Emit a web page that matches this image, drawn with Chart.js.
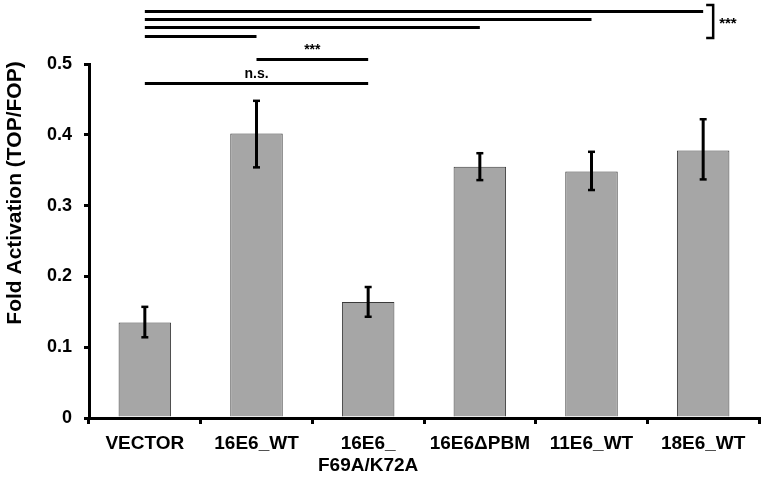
<!DOCTYPE html>
<html>
<head>
<meta charset="utf-8">
<script src="https://cdn.jsdelivr.net/npm/chart.js@4/dist/chart.umd.min.js"></script>
<style>
  html, body { margin: 0; padding: 0; background: #fff; }
  #wrap { width: 765px; height: 479px; position: relative; }
</style>
</head>
<body>
<div id="wrap"><canvas id="chart"></canvas></div>
<script>
const categories = ['VECTOR', '16E6_WT', ['16E6_', 'F69A/K72A'], '16E6\u0394PBM', '11E6_WT', '18E6_WT'];
const foldActivation = [0.135, 0.402, 0.164, 0.355, 0.348, 0.378];
const errorLow = [0.114, 0.354, 0.143, 0.336, 0.322, 0.337];
const errorHigh = [0.157, 0.448, 0.185, 0.374, 0.376, 0.422];
const yTicks = [0, 0.1, 0.2, 0.3, 0.4, 0.5];

// significance lines: from category, to category, height (in y units), label
const sigFrom = [0, 1, 0, 0, 0, 0];
const sigTo = [2, 2, 1, 3, 4, 5];
const sigLevel = [0.473, 0.507, 0.5395, 0.552, 0.5636, 0.575];
const sigLabel = ['n.s.', '***', '', '', '', ''];
// bracket grouping the top four lines
const bracketLines = [2, 3, 4, 5];
const bracketLabel = '***';

const FONT = 'Liberation Sans, Arial, sans-serif';

function line(ctx, x1, y1, x2, y2) {
    ctx.beginPath();
    ctx.moveTo(x1, y1);
    ctx.lineTo(x2, y2);
    ctx.stroke();
}

const annotations = {
    id: 'annotations',
    afterDatasetsDraw(chart) {
        const { ctx, scales: { x, y } } = chart;
        ctx.save();
        ctx.strokeStyle = '#000';
        ctx.fillStyle = '#000';

        // error bars
        foldActivation.forEach((v, i) => {
            const cx = x.getPixelForValue(i);
            const yl = y.getPixelForValue(errorLow[i]);
            const yh = y.getPixelForValue(errorHigh[i]);
            ctx.lineWidth = 3;
            line(ctx, cx, yl, cx, yh);
            ctx.lineWidth = 2.5;
            line(ctx, cx - 3.5, yh, cx + 3.5, yh);
            line(ctx, cx - 3.5, yl, cx + 3.5, yl);
        });

        // significance lines
        ctx.lineWidth = 3;
        ctx.font = 'bold 14px ' + FONT;
        ctx.textAlign = 'center';
        ctx.textBaseline = 'bottom';
        sigLevel.forEach((lv, i) => {
            const x1 = x.getPixelForValue(sigFrom[i]);
            const x2 = x.getPixelForValue(sigTo[i]);
            const py = Math.round(y.getPixelForValue(lv)) + 0.5;
            line(ctx, x1, py, x2, py);
            if (sigLabel[i]) ctx.fillText(sigLabel[i], (x1 + x2) / 2, py - 2);
        });

        // bracket
        const tops = bracketLines.map(i => y.getPixelForValue(sigLevel[i]));
        const bx = x.getPixelForValue(sigTo[bracketLines[bracketLines.length - 1]]) + 10;
        const byTop = Math.min(...tops) - 6;
        const byBot = Math.max(...tops) + 2;
        ctx.lineWidth = 2.5;
        ctx.beginPath();
        ctx.moveTo(bx - 7, byTop);
        ctx.lineTo(bx, byTop);
        ctx.lineTo(bx, byBot);
        ctx.lineTo(bx - 7, byBot);
        ctx.stroke();
        ctx.font = 'bold 15px ' + FONT;
        ctx.textAlign = 'left';
        ctx.textBaseline = 'middle';
        ctx.fillText(bracketLabel, bx + 6, (byTop + byBot) / 2 + 2);

        // y axis title
        ctx.save();
        ctx.translate(15, 193);
        ctx.rotate(-Math.PI / 2);
        ctx.font = 'bold 21px ' + FONT;
        ctx.textAlign = 'center';
        ctx.textBaseline = 'middle';
        ctx.fillText('Fold Activation (TOP/FOP)', 0, 0);
        ctx.restore();

        ctx.restore();
    }
};

new Chart(document.getElementById('chart'), {
    type: 'bar',
    data: {
        labels: categories,
        datasets: [{
            data: foldActivation,
            backgroundColor: '#a6a6a6',
            borderColor: '#3a3a3a',
            borderWidth: 1,
            borderSkipped: 'bottom',
            categoryPercentage: 1,
            barPercentage: 0.47
        }]
    },
    options: {
        responsive: true,
        maintainAspectRatio: false,
        animation: false,
        layout: { padding: { top: 64, right: 6, left: 0, bottom: 0 } },
        plugins: {
            legend: { display: false },
            tooltip: { enabled: false }
        },
        scales: {
            x: {
                grid: {
                    display: true,
                    drawOnChartArea: false,
                    drawTicks: true,
                    tickLength: 6,
                    color: '#000',
                    lineWidth: 3,
                    offset: true
                },
                border: { display: true, color: '#000', width: 3 },
                ticks: {
                    color: '#000',
                    font: { family: FONT, size: 19, weight: 'bold', lineHeight: 1.2 },
                    padding: 8,
                    maxRotation: 0,
                    autoSkip: false
                },
                afterFit(scale) { scale.height = 61; }
            },
            y: {
                min: 0,
                max: 0.5,
                afterBuildTicks(scale) { scale.ticks = yTicks.map(v => ({ value: v })); },
                grid: {
                    display: true,
                    drawOnChartArea: false,
                    drawTicks: true,
                    tickLength: 5,
                    color: '#000',
                    lineWidth: 3
                },
                border: { display: true, color: '#000', width: 3 },
                ticks: {
                    color: '#000',
                    font: { family: FONT, size: 18, weight: 'bold' },
                    padding: 12,
                    callback: v => String(v)
                },
                afterFit(scale) { scale.width = 89; }
            }
        }
    },
    plugins: [annotations]
});
</script>
</body>
</html>
